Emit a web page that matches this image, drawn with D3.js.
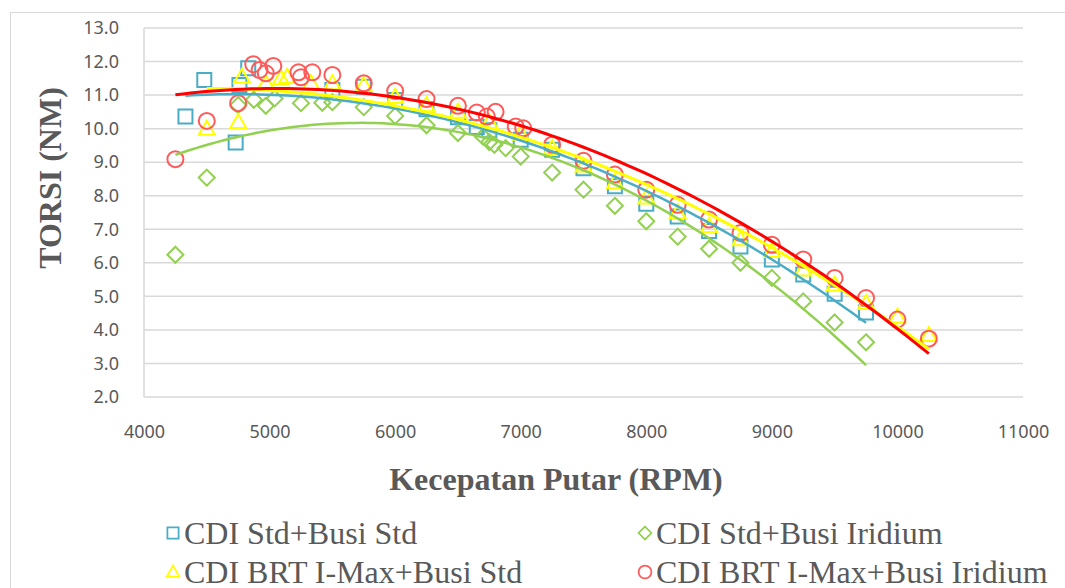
<!DOCTYPE html>
<html>
<head>
<meta charset="utf-8">
<script src="https://cdn.jsdelivr.net/npm/d3@7"></script>
<style>
  body { margin: 0; background: #fff; }
  svg { display: block; }
</style>
</head>
<body>
<div id="chart"></div>
<script>
var svgWidth = 1065;
var svgHeight = 588;

var margin = { top: 28, right: 42, bottom: 191, left: 144 };
var chartWidth = svgWidth - margin.left - margin.right;
var chartHeight = svgHeight - margin.top - margin.bottom;

// data
var xTicks = [4000, 5000, 6000, 7000, 8000, 9000, 10000, 11000];
var yTicks = [2, 3, 4, 5, 6, 7, 8, 9, 10, 11, 12, 13];

var stdStdRpm = [4330, 4480, 4730, 4760, 4830, 5500, 5750, 6000, 6250, 6500, 6650, 6750, 7000, 7250, 7500, 7750, 8000, 8250, 8500, 8750, 9000, 9250, 9500, 9750];
var stdStdTorsi = [10.36, 11.45, 9.59, 11.3, 11.8, 11.15, 11.25, 10.85, 10.58, 10.34, 10.05, 9.95, 9.67, 9.37, 8.82, 8.28, 7.76, 7.38, 6.95, 6.49, 6.1, 5.65, 5.08, 4.52];

var stdIrRpm = [4250, 4500, 4750, 4875, 4970, 5040, 5250, 5420, 5500, 5750, 6000, 6250, 6500, 6700, 6750, 6790, 6880, 7000, 7250, 7500, 7750, 8000, 8250, 8500, 8750, 9000, 9250, 9500, 9750];
var stdIrTorsi = [6.24, 8.54, 10.7, 10.86, 10.68, 10.9, 10.76, 10.77, 10.79, 10.64, 10.38, 10.1, 9.87, 9.76, 9.6, 9.52, 9.42, 9.17, 8.69, 8.18, 7.7, 7.24, 6.78, 6.42, 6.0, 5.55, 4.85, 4.22, 3.63];

var brtStdRpm = [4500, 4750, 4780, 4970, 5090, 5140, 5330, 5500, 5750, 6000, 6250, 6500, 6750, 7000, 7250, 7500, 7750, 8000, 8250, 8500, 8750, 9000, 9250, 9500, 9750, 10000, 10250];
var brtStdTorsi = [10.0, 10.2, 11.55, 11.35, 11.5, 11.55, 11.35, 11.35, 11.3, 10.95, 10.7, 10.5, 10.2, 9.85, 9.42, 8.9, 8.4, 7.95, 7.5, 7.1, 6.7, 6.35, 5.8, 5.35, 4.8, 4.4, 3.85];

var brtIrRpm = [4250, 4500, 4750, 4870, 4920, 4970, 5030, 5230, 5250, 5340, 5500, 5750, 6000, 6250, 6500, 6650, 6730, 6800, 6960, 7020, 7250, 7500, 7750, 8000, 8250, 8500, 8750, 9000, 9250, 9500, 9750, 10000, 10250];
var brtIrTorsi = [9.09, 10.23, 10.76, 11.92, 11.75, 11.65, 11.87, 11.68, 11.53, 11.68, 11.6, 11.35, 11.12, 10.88, 10.68, 10.48, 10.36, 10.5, 10.06, 10.01, 9.52, 9.04, 8.63, 8.18, 7.73, 7.29, 6.89, 6.54, 6.1, 5.55, 4.95, 4.31, 3.74];

var seriesNames = ["CDI Std+Busi Std", "CDI Std+Busi Iridium", "CDI BRT I-Max+Busi Std", "CDI BRT I-Max+Busi Iridium"];

var series = [
  { name: seriesNames[0], rpm: stdStdRpm, torsi: stdStdTorsi, shape: "square", marker: "#4BACC6", line: "#4BACC6", lw: 2.5 },
  { name: seriesNames[1], rpm: stdIrRpm, torsi: stdIrTorsi, shape: "diamond", marker: "#92D050", line: "#92D050", lw: 2.5 },
  { name: seriesNames[2], rpm: brtStdRpm, torsi: brtStdTorsi, shape: "triangle", marker: "#FFFF00", line: "#FFFF00", lw: 3 },
  { name: seriesNames[3], rpm: brtIrRpm, torsi: brtIrTorsi, shape: "circle", marker: "#FF5A5A", line: "#FF0000", lw: 3 }
];

var svg = d3.select("#chart")
  .append("svg")
  .attr("width", svgWidth)
  .attr("height", svgHeight);

svg.append("rect")
  .attr("x", 10.5).attr("y", 12.5)
  .attr("width", svgWidth + 20).attr("height", svgHeight + 20)
  .attr("fill", "#fff")
  .attr("stroke", "#d9d9d9")
  .attr("stroke-width", 1);

var chartGroup = svg.append("g")
  .attr("transform", `translate(${margin.left}, ${margin.top})`);

var xLinearScale = d3.scaleLinear().domain([4000, 11000]).range([0, chartWidth]);
var yLinearScale = d3.scaleLinear().domain([2, 13]).range([chartHeight, 0]);

// gridlines
chartGroup.append("g")
  .selectAll("line")
  .data(yTicks)
  .enter()
  .append("line")
  .attr("x1", 0)
  .attr("x2", chartWidth)
  .attr("y1", d => yLinearScale(d))
  .attr("y2", d => yLinearScale(d))
  .attr("stroke", "#d9d9d9")
  .attr("stroke-width", 1.5);

chartGroup.append("line")
  .attr("x1", 0).attr("x2", 0)
  .attr("y1", 0).attr("y2", chartHeight)
  .attr("stroke", "#d9d9d9")
  .attr("stroke-width", 1.5);

var leftAxis = d3.axisLeft(yLinearScale)
  .tickValues(yTicks)
  .tickFormat(d3.format(".1f"))
  .tickSize(0)
  .tickPadding(25);

var bottomAxis = d3.axisBottom(xLinearScale)
  .tickValues(xTicks)
  .tickFormat(d3.format("d"))
  .tickSize(0)
  .tickPadding(28);

var yAxis = chartGroup.append("g").call(leftAxis);
var xAxis = chartGroup.append("g")
  .attr("transform", `translate(0,${chartHeight})`)
  .call(bottomAxis);

[xAxis, yAxis].forEach(function(ax) {
  ax.select(".domain").remove();
  ax.selectAll("text")
    .attr("fill", "#595959")
    .style("font-family", "'Noto Sans', 'Open Sans', sans-serif")
    .style("font-size", "18px");
});

// least squares quadratic (excel polynomial trendline, order 2)
function polyFit(xs, ys) {
  var n = xs.length;
  var s = [0, 0, 0, 0, 0], t = [0, 0, 0];
  for (var i = 0; i < n; i++) {
    var x = (xs[i] - 7000) / 1000;
    var p = 1;
    for (var k = 0; k < 5; k++) { s[k] += p; if (k < 3) t[k] += p * ys[i]; p *= x; }
  }
  var A = [[s[0], s[1], s[2], t[0]], [s[1], s[2], s[3], t[1]], [s[2], s[3], s[4], t[2]]];
  for (var c = 0; c < 3; c++) {
    for (var r = c + 1; r < 3; r++) {
      var f = A[r][c] / A[c][c];
      for (var j = c; j < 4; j++) A[r][j] -= f * A[c][j];
    }
  }
  var b = [0, 0, 0];
  for (var r2 = 2; r2 >= 0; r2--) {
    var sum = A[r2][3];
    for (var j2 = r2 + 1; j2 < 3; j2++) sum -= A[r2][j2] * b[j2];
    b[r2] = sum / A[r2][r2];
  }
  return function(xv) { var x = (xv - 7000) / 1000; return b[0] + b[1] * x + b[2] * x * x; };
}

function markerPath(shape) {
  if (shape === "square") return "M-7,-7H7V7H-7Z";
  if (shape === "diamond") return "M0,-8L8,0L0,8L-8,0Z";
  if (shape === "triangle") return "M0,-8L8,6H-8Z";
  return d3.symbol().type(d3.symbolCircle).size(Math.PI * 64)();
}

// markers
series.forEach(function(s) {
  var pts = s.rpm.map((r, i) => ({ rpm: r, torsi: s.torsi[i] }));
  chartGroup.append("g")
    .selectAll("path")
    .data(pts)
    .enter()
    .append("path")
    .attr("d", markerPath(s.shape))
    .attr("transform", d => `translate(${xLinearScale(d.rpm)},${yLinearScale(d.torsi)})`)
    .attr("fill", "none")
    .attr("stroke", s.marker)
    .attr("stroke-width", 2);
});

// trendlines
series.forEach(function(s) {
  var fit = polyFit(s.rpm, s.torsi);
  var ext = d3.extent(s.rpm);
  var xs = d3.range(ext[0], ext[1] + 1, (ext[1] - ext[0]) / 100);
  chartGroup.append("path")
    .datum(xs)
    .attr("d", d3.line().x(d => xLinearScale(d)).y(d => yLinearScale(fit(d))))
    .attr("fill", "none")
    .attr("stroke", s.line)
    .attr("stroke-width", s.lw);
});

// axis titles
svg.append("text")
  .attr("x", 556)
  .attr("y", 490)
  .attr("text-anchor", "middle")
  .attr("fill", "#595959")
  .style("font-family", "'Liberation Serif', 'Times New Roman', serif")
  .style("font-weight", "bold")
  .style("font-size", "32px")
  .text("Kecepatan Putar (RPM)");

svg.append("text")
  .attr("transform", `translate(61,${178}) rotate(-90)`)
  .attr("text-anchor", "middle")
  .attr("fill", "#595959")
  .style("font-family", "'Liberation Serif', 'Times New Roman', serif")
  .style("font-weight", "bold")
  .style("font-size", "32px")
  .text("TORSI (NM)");

// legend
var legendPos = [[173, 533], [645, 533], [173, 572], [645, 572]];
var legend = svg.append("g")
  .selectAll("g")
  .data(series)
  .enter()
  .append("g")
  .attr("transform", (d, i) => `translate(${legendPos[i][0]},${legendPos[i][1]})`);

legend.append("path")
  .attr("d", d => markerPath(d.shape))
  .attr("transform", "scale(0.8)")
  .attr("fill", "none")
  .attr("stroke", d => d.marker)
  .attr("stroke-width", 2.2);

legend.append("text")
  .attr("x", 11)
  .attr("y", 11)
  .attr("fill", "#595959")
  .style("font-family", "'Liberation Serif', 'Times New Roman', serif")
  .style("font-size", "32px")
  .text(d => d.name);
</script>
</body>
</html>
